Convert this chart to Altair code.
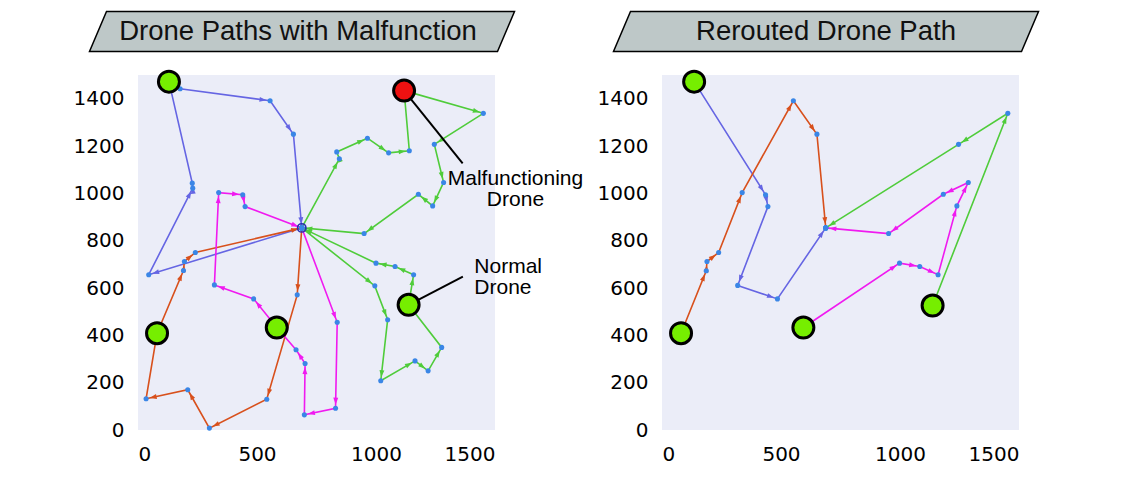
import math
import altair as alt
import pandas as pd

# ---------------- data ----------------
HUB_X, HUB_Y = 688, 854

# Left panel: drone paths with malfunction
L_BLUE_X = [130, 177, 555, 653, 688, 45, 230, 228, 130]
L_BLUE_Y = [1472, 1442, 1391, 1250, 854, 656, 1022, 1043, 1472]
L_ORANGE_X = [688, 669, 541, 300, 209, 34, 80, 191, 195, 241, 688]
L_ORANGE_Y = [854, 571, 130, 8, 170, 132, 409, 674, 712, 750, 854]
L_MAGENTA_X = [688, 837, 830, 699, 702, 664, 583, 486, 321, 339, 440, 450, 688]
L_MAGENTA_Y = [854, 455, 92, 64, 281, 339, 433, 554, 613, 1003, 994, 944, 854]
L_GREEN_A_X = [1118, 1451, 1245, 1284, 1238, 1178, 950, 688, 846, 835, 964, 1053, 1140, 1118]
L_GREEN_A_Y = [1434, 1338, 1207, 1046, 947, 996, 830, 854, 1146, 1175, 1233, 1171, 1180, 1434]
L_GREEN_B_X = [1137, 1158, 1080, 1000, 688, 995, 1049, 1020, 1164, 1219, 1276, 1137]
L_GREEN_B_Y = [529, 656, 691, 705, 854, 609, 466, 208, 292, 250, 349, 529]

L_START_X = [130, 80, 583, 1137, 1118]
L_START_Y = [1472, 409, 433, 529, 1434]
L_START_FILL = ["#76ee00", "#76ee00", "#76ee00", "#76ee00", "#ee1111"]

# Right panel: rerouted paths
R_BLUE_X = [135, 435, 445, 318, 485, 688]
R_BLUE_Y = [1472, 994, 944, 611, 554, 854]
R_ORANGE_X = [80, 186, 189, 238, 337, 552, 651, 688]
R_ORANGE_Y = [409, 673, 712, 750, 1003, 1391, 1250, 854]
R_GREEN_X = [1137, 1453, 1246, 688]
R_GREEN_Y = [526, 1338, 1207, 854]
R_MAGENTA_X = [594, 998, 1083, 1160, 1239, 1287, 1182, 952, 688]
R_MAGENTA_Y = [433, 705, 691, 656, 947, 1046, 996, 830, 854]

R_START_X = [135, 80, 594, 1137]
R_START_Y = [1472, 409, 433, 526]
R_START_FILL = ["#76ee00", "#76ee00", "#76ee00", "#76ee00"]

# annotations (left panel)
ANN_TEXT = ["Malfunctioning\nDrone", "Normal\nDrone"]
ANN_TEXT_X = [1586, 1413]
ANN_TEXT_Y = [1037, 662]
ANN_FROM_X = [1118, 1137]
ANN_FROM_Y = [1434, 529]
ANN_TO_X = [1364, 1365]
ANN_TO_Y = [1127, 648]

TITLES = ["Drone Paths with Malfunction", "Rerouted Drone Path"]
X_TICKS = [0, 500, 1000, 1500]
Y_TICKS = [0, 200, 400, 600, 800, 1000, 1200, 1400]

BLUE, ORANGE, MAGENTA, GREEN = "#6565e3", "#d8501c", "#f01af0", "#4fcc3a"
DOT = "#3a86e6"

# ---------------- helpers ----------------
def path_rows(name, xs, ys, color):
    return [dict(path=name, seq=i, x=x, y=y, color=color) for i, (x, y) in enumerate(zip(xs, ys))]


def arrow_rows(xs, ys, color, back=30):
    rows = []
    for i in range(1, len(xs)):
        dx, dy = xs[i] - xs[i - 1], ys[i] - ys[i - 1]
        L = math.hypot(dx, dy)
        rows.append(dict(x=xs[i] - back * dx / L, y=ys[i] - back * dy / L,
                         angle=math.degrees(math.atan2(dx, dy)) % 360, color=color))
    return rows


SC = alt.Scale(domain=[0, 1500], nice=False, zero=False)
X = alt.X("x:Q", scale=SC, axis=alt.Axis(values=X_TICKS, title=None, format="d"))
Y = alt.Y("y:Q", scale=SC, axis=alt.Axis(values=Y_TICKS, title=None, format="d"))
ARROW = "M 0 -1 L 0.7 1 L -0.7 1 Z"
BOX = "M -0.92 -0.0941 L 1 -0.0941 L 0.92 0.0941 L -1 0.0941 Z"


def panel(paths, sx, sy, sfill, title, box_x, text_x, hub_ring=False, ann=False):
    pts, arr = [], []
    for name, xs, ys, c in paths:
        pts += path_rows(name, xs, ys, c)
        arr += arrow_rows(xs, ys, c)
    pts = pd.DataFrame(pts)
    arr = pd.DataFrame(arr)
    starts = pd.DataFrame(dict(x=sx, y=sy, fill=sfill))

    lines = alt.Chart(pts).mark_line(strokeWidth=1.6).encode(
        x=X, y=Y, detail="path:N", order="seq:Q", color=alt.Color("color:N", scale=None))
    heads = alt.Chart(arr).mark_point(shape=ARROW, filled=True, size=49, opacity=1, strokeWidth=0).encode(
        x=X, y=Y, angle=alt.Angle("angle:Q", scale=None), fill=alt.Fill("color:N", scale=None))
    dots = alt.Chart(pts).mark_circle(size=26, color=DOT, opacity=1).encode(x=X, y=Y)
    layers = [lines, heads, dots]
    if hub_ring:
        hub = pd.DataFrame(dict(x=[HUB_X], y=[HUB_Y]))
        layers.append(alt.Chart(hub).mark_point(size=70, filled=False, stroke="#2830b0",
                                                strokeWidth=1.6, opacity=1).encode(x=X, y=Y))
    if ann:
        adf = pd.DataFrame(dict(x=ANN_FROM_X, y=ANN_FROM_Y, x2=ANN_TO_X, y2=ANN_TO_Y))
        layers.append(alt.Chart(adf).mark_rule(color="black", strokeWidth=2).encode(
            x=X, y=Y, x2="x2:Q", y2="y2:Q"))
    layers.append(alt.Chart(starts).mark_circle(size=441, stroke="black", strokeWidth=3, opacity=1).encode(
        x=X, y=Y, fill=alt.Fill("fill:N", scale=None)))
    if ann:
        t1 = pd.DataFrame(dict(x=ANN_TEXT_X[:1], y=ANN_TEXT_Y[:1], t=ANN_TEXT[:1]))
        t2 = pd.DataFrame(dict(x=ANN_TEXT_X[1:], y=ANN_TEXT_Y[1:], t=ANN_TEXT[1:]))
        layers.append(alt.Chart(t1).mark_text(font="Liberation Sans", fontSize=21, lineHeight=21,
                                              align="center", baseline="alphabetic", lineBreak="\n",
                                              color="black").encode(x=X, y=Y, text="t:N"))
        layers.append(alt.Chart(t2).mark_text(font="Liberation Sans", fontSize=21, lineHeight=21,
                                              align="left", baseline="alphabetic", lineBreak="\n",
                                              color="black").encode(x=X, y=Y, text="t:N"))
    tdf = pd.DataFrame(dict(t=[title]))
    layers.append(alt.Chart(tdf).mark_point(shape=BOX, size=180625, filled=True, fill="#bec8c8",
                                            stroke="black", strokeWidth=1.5, opacity=1).encode(
        x=alt.value(box_x), y=alt.value(-43.5)))
    layers.append(alt.Chart(tdf).mark_text(font="Liberation Sans", fontSize=27.5, align="center",
                                           baseline="alphabetic", color="#111111").encode(
        x=alt.value(text_x), y=alt.value(-35.5), text="t:N"))
    return alt.layer(*layers).properties(width=357, height=355)


left = panel([("lb", L_BLUE_X, L_BLUE_Y, BLUE), ("lo", L_ORANGE_X, L_ORANGE_Y, ORANGE),
              ("lm", L_MAGENTA_X, L_MAGENTA_Y, MAGENTA), ("lga", L_GREEN_A_X, L_GREEN_A_Y, GREEN),
              ("lgb", L_GREEN_B_X, L_GREEN_B_Y, GREEN)],
             L_START_X, L_START_Y, L_START_FILL, TITLES[0], 164, 160, hub_ring=True, ann=True)
right = panel([("rb", R_BLUE_X, R_BLUE_Y, BLUE), ("ro", R_ORANGE_X, R_ORANGE_Y, ORANGE),
               ("rm", R_MAGENTA_X, R_MAGENTA_Y, MAGENTA), ("rg", R_GREEN_X, R_GREEN_Y, GREEN)],
              R_START_X, R_START_Y, R_START_FILL, TITLES[1], 164, 164)

chart = alt.hconcat(left, right, spacing=167, bounds="flush").properties(
    padding={"left": 65, "top": 0, "right": 5, "bottom": 5}
).configure_view(fill="#ebedf8", strokeWidth=0).configure_axis(
    labelFont="DejaVu Sans", labelFontSize=20, labelColor="black", ticks=False, domain=False, grid=False
).configure_axisY(labelPadding=14).configure_axisX(labelPadding=14)

chart.save("out.html", embed_options={"renderer": "svg", "actions": False})
